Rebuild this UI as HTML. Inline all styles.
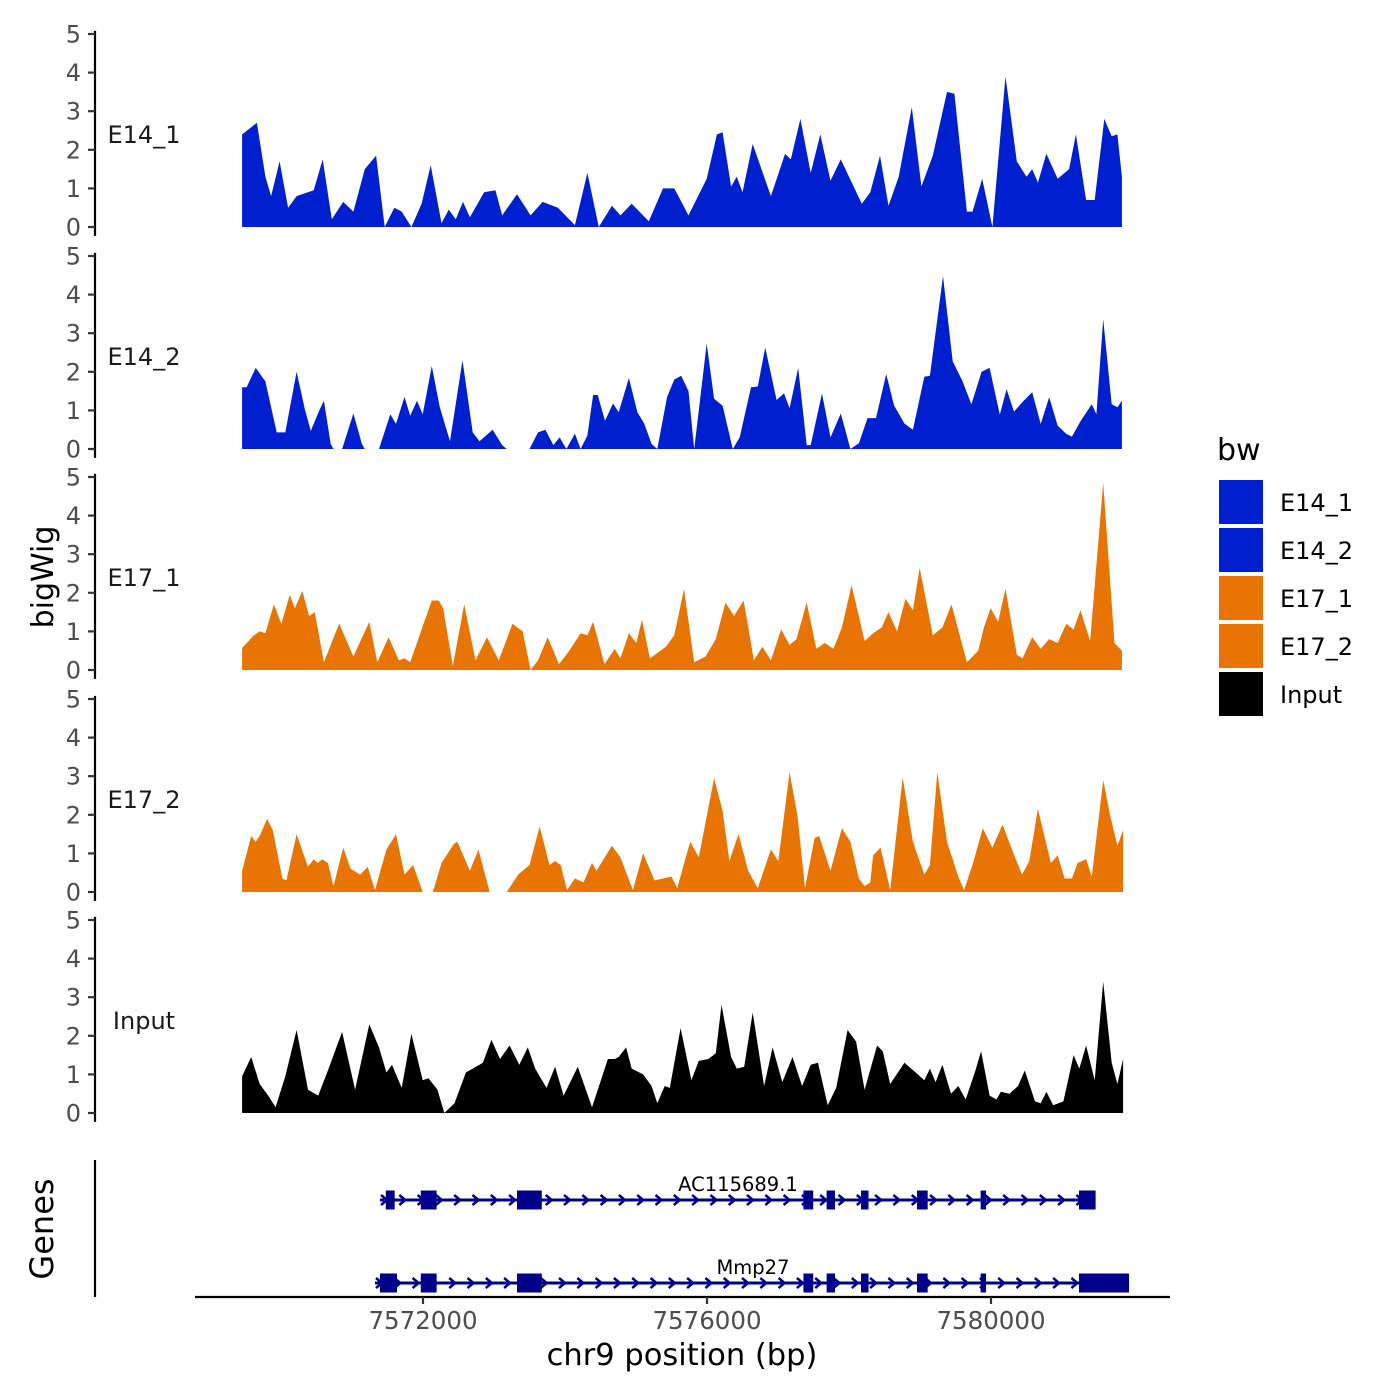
<!DOCTYPE html>
<html><head><meta charset="utf-8"><style>
html,body{margin:0;padding:0;background:#fff;}
svg{display:block;font-family:"DejaVu Sans","Liberation Sans",sans-serif;}
</style></head><body>
<svg id="chart" width="1400" height="1400" viewBox="0 0 1400 1400" xmlns="http://www.w3.org/2000/svg">
<g id="tracks"></g>
<g id="genes"></g>
<g id="xaxis"></g>
<text x="0" y="0" transform="translate(53,577) rotate(-90)" text-anchor="middle" font-size="30" fill="#000">bigWig</text>
<text x="0" y="0" transform="translate(53,1229) rotate(-90)" text-anchor="middle" font-size="32" fill="#000">Genes</text>
<text x="682" y="1365" text-anchor="middle" font-size="30.5" fill="#000">chr9 position (bp)</text>
<g id="legend"></g>
</svg>
<script>
// ---- data ----
const REGION_START = 7569420;
const BIN_SIZE = 8;
const trackNames = ["E14_1","E14_2","E17_1","E17_2","Input"];
const trackColors = ["#0020cf","#0020cf","#e87503","#e87503","#000000"];
const e14_1_bins = [4,30,45,55,70,85,100,130,146,162,182,200,220,240,255,272,285,302,320,336,355,368,380,393,405,430,450,462,488,512,533,560,590,612,632,655,670,690,720,745,765,790,822,840,850,865,875,885,903,935,960,970,987,1005,1022,1040,1058,1095,1110,1127,1142,1160,1183,1200,1220,1245,1258,1280,1290,1307,1325,1348,1368,1385,1395,1405,1420,1440,1460,1472,1490,1505,1522,1535,1545,1553];
const e14_1_vals = [2.4,2.7,1.3,0.8,1.7,0.5,0.8,0.95,1.75,0.2,0.65,0.4,1.5,1.85,0,0.5,0.4,0,0.6,1.6,0.1,0.45,0.2,0.65,0.25,0.9,0.95,0.3,0.85,0.3,0.65,0.5,0.05,1.4,0,0.55,0.3,0.6,0.15,1.0,1.0,0.3,1.25,2.4,2.45,1.05,1.3,0.9,2.15,0.8,1.9,1.75,2.8,1.4,2.4,1.2,1.75,0.6,0.9,1.85,0.55,1.3,3.1,1.05,1.85,3.5,3.45,0.4,0.4,1.25,0,3.9,1.7,1.3,1.5,1.15,1.9,1.25,1.5,2.4,0.7,0.7,2.8,2.35,2.4,1.3];
const e14_2_bins = [4,12,28,45,65,80,100,115,125,140,148,160,165,180,200,215,220,245,265,275,290,300,312,322,338,352,370,392,410,422,445,462,470,510,525,538,552,563,575,590,600,612,622,630,643,657,667,685,700,712,725,735,752,765,777,790,800,822,835,850,868,880,900,912,925,945,958,968,983,998,1005,1025,1040,1058,1075,1090,1105,1120,1138,1152,1170,1185,1205,1215,1238,1255,1272,1288,1306,1320,1338,1350,1363,1380,1395,1410,1425,1440,1455,1465,1480,1500,1508,1520,1535,1545,1553];
const e14_2_vals = [1.6,1.6,2.1,1.75,0.43,0.43,2.0,1.0,0.47,1.0,1.25,0.13,0,0,0.92,0.13,0,0,0.9,0.65,1.35,0.86,1.25,0.9,2.15,1.08,0.2,2.3,0.43,0.2,0.5,0.1,0,0,0.43,0.5,0.1,0.3,0,0.4,0,0.35,1.4,1.4,0.73,1.18,0.95,1.84,0.95,0.66,0.13,0,1.34,1.8,1.9,1.5,0,2.73,1.3,1.12,0,0.3,1.6,1.62,2.63,1.27,1.44,1.06,2.1,0.1,0.1,1.44,0.3,0.92,0,0.15,0.8,0.8,1.94,1.12,0.66,0.5,1.87,1.9,4.48,2.27,1.77,1.16,2.0,2.1,0.89,1.55,0.97,1.25,1.47,0.65,1.34,0.6,0.39,0.32,0.72,1.16,0.9,3.36,1.16,1.08,1.25];
const e17_1_bins = [4,25,35,45,60,73,88,97,110,122,132,148,175,200,228,242,262,280,290,300,320,338,350,358,375,395,415,435,456,480,498,512,525,542,562,580,600,612,622,642,660,670,685,698,708,722,750,765,782,800,820,838,855,870,887,905,920,935,953,968,980,998,1015,1030,1045,1060,1077,1100,1115,1130,1142,1157,1172,1185,1197,1220,1237,1253,1280,1300,1310,1322,1335,1348,1368,1378,1395,1410,1425,1440,1455,1468,1480,1497,1520,1540,1553];
const e17_1_vals = [0.57,0.9,1.0,0.95,1.7,1.2,1.95,1.6,2.05,1.4,1.5,0.2,1.2,0.35,1.25,0.2,0.85,0.25,0.3,0.2,1.05,1.8,1.8,1.6,0.1,1.7,0.25,0.85,0.25,1.2,1.0,0,0.25,0.85,0.15,0.5,0.95,0.9,1.25,0.15,0.55,0.3,0.95,0.7,1.3,0.3,0.6,0.9,2.1,0.2,0.35,0.8,1.75,1.4,1.8,0.25,0.6,0.25,1.05,0.65,0.8,1.75,0.55,0.7,0.55,1.1,2.2,0.75,0.95,1.1,1.5,1.0,1.85,1.55,2.65,0.9,1.1,1.7,0.2,0.5,1.1,1.6,1.25,2.1,0.4,0.3,0.85,0.55,0.8,0.7,1.2,1.05,1.55,0.75,4.85,0.7,0.5];
const e17_2_bins = [4,20,28,35,48,58,75,82,100,120,130,137,145,155,165,182,195,212,225,238,258,275,290,305,322,340,355,377,383,405,420,440,470,490,510,528,545,555,565,576,590,605,620,628,655,670,692,710,730,760,770,793,808,835,850,862,878,895,912,935,948,968,982,995,1012,1020,1040,1060,1075,1090,1100,1110,1115,1128,1145,1167,1185,1205,1215,1228,1245,1265,1275,1290,1308,1325,1343,1358,1377,1390,1405,1428,1440,1452,1465,1475,1490,1500,1520,1532,1545,1555];
const e17_2_vals = [0.55,1.45,1.3,1.45,1.9,1.6,0.35,0.3,1.5,0.65,0.85,0.75,0.85,0.75,0.15,1.15,0.6,0.45,0.65,0.05,1.1,1.5,0.45,0.7,0,0,0.75,1.25,1.3,0.55,1.1,0,0,0.45,0.7,1.7,0.7,0.8,0.7,0.05,0.35,0.25,0.75,0.55,1.2,0.9,0.05,1.0,0.3,0.4,0.1,1.3,0.9,2.95,2.1,0.8,1.5,0.55,0.1,1.1,0.8,3.1,1.95,0.1,1.4,1.45,0.55,1.65,1.3,0.35,0.15,0.25,0.95,1.15,0.05,2.97,1.3,0.45,0.7,3.1,1.3,0.4,0.05,0.7,1.65,1.15,1.75,1.15,0.45,0.8,2.15,0.75,0.95,0.35,0.35,0.75,0.85,0.4,2.9,2.0,1.2,1.6];
const input_bins = [4,20,35,50,63,80,100,120,138,155,180,203,228,245,258,268,285,302,322,332,348,360,378,398,428,443,458,475,492,507,520,540,555,570,595,620,648,660,667,680,690,710,725,735,748,757,776,795,808,825,838,848,865,875,888,903,923,938,955,973,990,1005,1018,1035,1050,1070,1085,1100,1122,1132,1145,1170,1190,1205,1215,1225,1237,1252,1265,1278,1295,1305,1320,1332,1340,1355,1370,1382,1400,1410,1420,1432,1450,1468,1478,1490,1505,1520,1535,1545,1555];
const input_vals = [0.95,1.45,0.75,0.45,0.15,0.95,2.15,0.6,0.45,1.1,2.1,0.6,2.3,1.7,1.05,1.25,0.65,2.05,0.85,0.9,0.6,0,0.25,1.05,1.3,1.9,1.4,1.75,1.25,1.7,1.15,0.65,1.2,0.45,1.2,0.15,1.4,1.4,1.45,1.7,1.15,1.0,0.7,0.25,0.7,0.65,2.2,0.85,1.35,1.4,1.55,2.8,1.45,1.15,1.2,2.6,0.7,1.7,0.8,1.45,0.7,1.25,1.3,0.2,0.65,2.15,1.85,0.6,1.75,1.6,0.75,1.3,1.05,0.85,1.15,0.8,1.25,0.5,0.7,0.35,1.1,1.6,0.45,0.35,0.55,0.5,0.7,1.1,0.3,0.25,0.55,0.2,0.3,1.5,1.15,1.75,0.85,3.4,1.3,0.75,1.4];
const yTicks = [0,1,2,3,4,5];
const xTicks = [7572000,7576000,7580000];
const xTickLabels = ["7572000","7576000","7580000"];
const geneNames = ["AC115689.1","Mmp27"];
const geneStarts = [7571394,7571324];
const geneEnds = [7581473,7581944];
const gene1ExonStarts = [7571476,7571969,7573324,7577358,7577685,7578169,7578958,7579854,7581239];
const gene1ExonEnds   = [7571601,7572192,7573673,7577496,7577803,7578275,7579108,7579930,7581473];
const gene2ExonStarts = [7571394,7571969,7573324,7577358,7577685,7578169,7578958,7579854,7581239];
const gene2ExonEnds   = [7571634,7572192,7573673,7577496,7577803,7578275,7579108,7579930,7581944];

// ---- scales ----
const NS = "http://www.w3.org/2000/svg";
function xScale(bp){ return 423 + (bp - 7572000) * 0.071; }
const trackZeroY = [227, 449, 670, 892, 1113];
const PX_PER_UNIT = 38.6;
function yScale(t, v){ return trackZeroY[t] - v * PX_PER_UNIT; }
function mk(tag, parent){ const e = document.createElementNS(NS, tag); parent.appendChild(e); return e; }

const allBins = [e14_1_bins,e14_2_bins,e17_1_bins,e17_2_bins,input_bins];
const allVals = [e14_1_vals,e14_2_vals,e17_1_vals,e17_2_vals,input_vals];
const tracksG = document.getElementById('tracks');
for (let t = 0; t < 5; t++) {
  const g = mk('g', tracksG);
  
  
  const bins = allBins[t], vals = allVals[t];
  let d = '';
  const x0 = xScale(REGION_START + bins[0] * BIN_SIZE);
  d += 'M' + x0.toFixed(1) + ',' + trackZeroY[t];
  for (let i = 0; i < bins.length; i++) {
    const x = xScale(REGION_START + bins[i] * BIN_SIZE);
    d += 'L' + x.toFixed(1) + ',' + yScale(t, vals[i]).toFixed(1);
  }
  const xe = xScale(REGION_START + bins[bins.length-1] * BIN_SIZE);
  d += 'L' + xe.toFixed(1) + ',' + trackZeroY[t] + 'Z';
  const area = mk('path', g);
  area.setAttribute('d', d);
  area.setAttribute('fill', trackColors[t]);
  
  
  const ax = mk('line', g);
  ax.setAttribute('x1', 95); ax.setAttribute('x2', 95);
  ax.setAttribute('y1', yScale(t, 5.08)); ax.setAttribute('y2', yScale(t, -0.23));
  ax.setAttribute('stroke', '#000'); ax.setAttribute('stroke-width', 2.2);
  
  
  for (const v of yTicks) {
    const y = yScale(t, v);
    const tk = mk('line', g);
    tk.setAttribute('x1', 88); tk.setAttribute('x2', 95);
    tk.setAttribute('y1', y); tk.setAttribute('y2', y);
    tk.setAttribute('stroke', '#333'); tk.setAttribute('stroke-width', 2.2);
    
    
    const tl = mk('text', g);
    tl.setAttribute('x', 81); tl.setAttribute('y', y + 8.5);
    tl.setAttribute('text-anchor', 'end'); tl.setAttribute('font-size', '24');
    tl.setAttribute('fill', '#4d4d4d');
    tl.textContent = v;
    
    
  }
  const lab = mk('text', g);
  lab.setAttribute('x', 144); lab.setAttribute('y', yScale(t, 2.4) + 8.5);
  lab.setAttribute('text-anchor', 'middle'); lab.setAttribute('font-size', '24');
  lab.setAttribute('fill', '#1a1a1a');
  lab.textContent = trackNames[t];
  
  
}

// ---- genes ----
const genesG = document.getElementById('genes');
const gAx = mk('line', genesG);
gAx.setAttribute('x1', 95); gAx.setAttribute('x2', 95); gAx.setAttribute('y1', 1160); gAx.setAttribute('y2', 1297);
gAx.setAttribute('stroke', '#000'); gAx.setAttribute('stroke-width', 2.2);


const geneY = [1200, 1283];
const exS = [gene1ExonStarts, gene2ExonStarts], exE = [gene1ExonEnds, gene2ExonEnds];
const GENE_COLOR = '#00008b';
for (let k = 0; k < 2; k++) {
  const g = mk('g', genesG);
  
  
  const y = geneY[k];
  const xs = xScale(geneStarts[k]), xe = xScale(geneEnds[k]);
  const ln = mk('line', g);
  ln.setAttribute('x1', xs); ln.setAttribute('x2', xe); ln.setAttribute('y1', y); ln.setAttribute('y2', y);
  ln.setAttribute('stroke', GENE_COLOR); ln.setAttribute('stroke-width', 3);
  
  
  let cd = '';
  for (let x = xs + 4; x < xe - 4; x += 18.3) {
    cd += 'M' + (x - 3).toFixed(1) + ',' + (y - 5) + 'L' + (x + 3).toFixed(1) + ',' + y + 'L' + (x - 3).toFixed(1) + ',' + (y + 5);
  }
  const ch = mk('path', g);
  ch.setAttribute('d', cd); ch.setAttribute('fill', 'none');
  ch.setAttribute('stroke', GENE_COLOR); ch.setAttribute('stroke-width', 2.5);
  
  
  for (let i = 0; i < exS[k].length; i++) {
    const a = xScale(exS[k][i]), b = xScale(exE[k][i]);
    const r = mk('rect', g);
    r.setAttribute('x', a); r.setAttribute('y', y - 9.5);
    r.setAttribute('width', Math.max(b - a, 5)); r.setAttribute('height', 19);
    r.setAttribute('fill', GENE_COLOR);
    
    
  }
  const nm = mk('text', g);
  nm.setAttribute('x', k === 0 ? 738 : 753); nm.setAttribute('y', y - 9);
  nm.setAttribute('text-anchor', 'middle'); nm.setAttribute('font-size', '19.5');
  nm.setAttribute('fill', '#000');
  nm.textContent = geneNames[k];
  
  
}

// ---- x axis ----
const xG = document.getElementById('xaxis');
const xl = mk('line', xG);
xl.setAttribute('x1', 195); xl.setAttribute('x2', 1170); xl.setAttribute('y1', 1297); xl.setAttribute('y2', 1297);
xl.setAttribute('stroke', '#000'); xl.setAttribute('stroke-width', 2.2);


for (let i = 0; i < xTicks.length; i++) {
  const x = xScale(xTicks[i]);
  const tk = mk('line', xG);
  tk.setAttribute('x1', x); tk.setAttribute('x2', x); tk.setAttribute('y1', 1297); tk.setAttribute('y2', 1304);
  tk.setAttribute('stroke', '#333'); tk.setAttribute('stroke-width', 2.2);
  
  
  const tl = mk('text', xG);
  tl.setAttribute('x', x); tl.setAttribute('y', 1329);
  tl.setAttribute('text-anchor', 'middle'); tl.setAttribute('font-size', '24.5');
  tl.setAttribute('fill', '#4d4d4d');
  tl.textContent = xTickLabels[i];
  
  
}

// ---- legend ----
const lg = document.getElementById('legend');
const lt = mk('text', lg);
lt.setAttribute('x', 1217); lt.setAttribute('y', 460); lt.setAttribute('font-size', '30'); lt.setAttribute('fill', '#000');
lt.textContent = 'bw';


for (let i = 0; i < trackNames.length; i++) {
  const y = 480 + i * 48;
  const r = mk('rect', lg);
  r.setAttribute('x', 1219); r.setAttribute('y', y); r.setAttribute('width', 44); r.setAttribute('height', 44);
  r.setAttribute('fill', trackColors[i]);
  
  
  const t = mk('text', lg);
  t.setAttribute('x', 1280); t.setAttribute('y', y + 31); t.setAttribute('font-size', '24'); t.setAttribute('fill', '#000');
  t.textContent = trackNames[i];
  
  
}
</script>
</body></html>
